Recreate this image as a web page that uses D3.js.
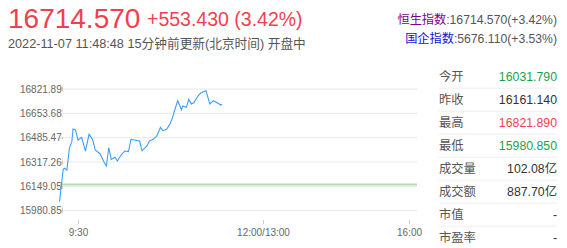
<!DOCTYPE html>
<html>
<head>
<meta charset="utf-8">
<script src="https://cdn.jsdelivr.net/npm/d3@7"></script>
<style>
  body { margin: 0; background: #fff; }
  svg { display: block; font-family: "Liberation Sans", Arial, "Noto Sans CJK SC", sans-serif; }
</style>
</head>
<body>
<div id="chart"></div>
<script>
// header values
var lastPrice = "16714.570";
var change = "+553.430 (3.42%)";
var stamp = "2022-11-07 11:48:48 15分钟前更新(北京时间) 开盘中";
var indexNames = ["恒生指数", "国企指数"];
var indexValues = [":16714.570(+3.42%)", ":5676.110(+3.53%)"];

// intraday series (time, price)
var times = ["9:15","9:18","9:19","9:21","9:23","9:25","9:26","9:28","9:30","9:33",
             "9:36","9:39","9:42","9:44","9:48","9:51","9:53","9:55","9:57","10:00",
             "10:02","10:05","10:08","10:11","10:13","10:16","10:20","10:22","10:26","10:28",
             "10:31","10:34","10:37","10:39","10:42","10:45","10:47","10:49","10:51","10:54",
             "10:55","10:58","11:00","11:02","11:04","11:08","11:10","11:14","11:17","11:20",
             "11:23","11:26","11:27"];
var prices = [16043,16267,16274,16262,16412,16458,16545,16539,16469,16488,
              16393,16509,16469,16400,16373,16319,16290,16416,16336,16350,
              16324,16366,16393,16389,16474,16469,16462,16395,16428,16462,
              16474,16497,16557,16534,16543,16585,16631,16689,16741,16677,
              16704,16695,16751,16718,16727,16780,16796,16810,16718,16741,
              16727,16711,16716];
var prevClose = 16161.14;
var yTicks = [15980.850, 16149.058, 16317.266, 16485.474, 16653.682, 16821.890];
var xTickLabels = ["9:30", "12:00/13:00", "16:00"];
var xTickTimes = ["9:30", "13:00", "16:00"];

// quote table
var rowLabels = ["今开", "昨收", "最高", "最低", "成交量", "成交额", "市值", "市盈率"];
var rowValues = ["16031.790", "16161.140", "16821.890", "15980.850", "102.08亿", "887.70亿", "-", "-"];
var rowKinds = ["down", "flat", "up", "down", "flat", "flat", "flat", "flat"];

var red = "#f23f4f", green = "#1d9f4a";

var svg = d3.select("#chart").append("svg")
  .attr("width", 567)
  .attr("height", 248);

// trading minutes since 9:30, lunch break removed
function tradeMin(t) {
  var p = t.split(":"), m = (+p[0]) * 60 + (+p[1]) - 570;
  return m > 150 ? m - 60 : m;
}

var x = d3.scaleLinear()
  .domain([-15, 0, 150, 330])
  .range([59.5, 78, 262.7, 409.3]);

var y = d3.scaleLinear()
  .domain([15980.85, 16821.89])
  .range([210.7, 89]);

// header
svg.append("text").attr("x", 8).attr("y", 28)
  .style("font-size", "28px").style("fill", red).text(lastPrice);
svg.append("text").attr("x", 147).attr("y", 26)
  .style("font-size", "19.5px").style("fill", red).text(change);
svg.append("text").attr("x", 8).attr("y", 48)
  .style("font-size", "12.7px").style("fill", "#555").text(stamp);

var idx = svg.append("g");
indexNames.forEach(function(n, i) {
  var t = idx.append("text").attr("x", 557).attr("y", 24 + i * 18.5)
    .attr("text-anchor", "end").style("font-size", "12.2px");
  t.append("tspan").style("fill", i == 0 ? "#800080" : "#1010e0").text(n);
  t.append("tspan").style("fill", "#555").text(indexValues[i]);
});

// gridlines
svg.append("g").selectAll("line").data(yTicks).enter().append("line")
  .attr("x1", 60).attr("x2", 417)
  .attr("y1", function(d) { return y(d); })
  .attr("y2", function(d) { return y(d); })
  .attr("stroke", "#e8e8e8");

// y labels, clipped like the original
svg.append("clipPath").attr("id", "yclip")
  .append("rect").attr("x", 0).attr("y", 70).attr("width", 62.5).attr("height", 150);
svg.append("g").attr("clip-path", "url(#yclip)")
  .selectAll("text").data(yTicks).enter().append("text")
  .attr("x", 20).attr("y", function(d) { return y(d) + 3.5; })
  .style("font-size", "10px").style("fill", "#666")
  .text(function(d) { return d.toFixed(3); });

// previous close
svg.append("line")
  .attr("x1", 60).attr("x2", 417)
  .attr("y1", y(prevClose)).attr("y2", y(prevClose))
  .attr("stroke", "#b2dfb0").attr("stroke-width", 2);

// x axis ticks
var xt = svg.append("g");
xTickTimes.forEach(function(t, i) {
  var px = Math.round(x(tradeMin(t))) + 0.5;
  xt.append("line").attr("x1", px).attr("x2", px).attr("y1", 220).attr("y2", 224)
    .attr("stroke", "#ccc");
  xt.append("text").attr("x", px).attr("y", 236).attr("text-anchor", "middle")
    .style("font-size", "10px").style("fill", "#666").text(xTickLabels[i]);
});

// price line
var line = d3.line()
  .x(function(d, i) { return x(tradeMin(times[i])); })
  .y(function(d) { return y(d); });
svg.append("path").datum(prices)
  .attr("d", line)
  .attr("fill", "none")
  .attr("stroke", "#3f9cff")
  .attr("stroke-width", 1.1);

// quote table
var rows = svg.append("g").selectAll("g").data(rowLabels).enter().append("g")
  .attr("transform", function(d, i) { return "translate(0," + (76.7 + i * 23) + ")"; });
rows.append("text").attr("x", 439).attr("y", 4.5)
  .style("font-size", "12.3px").style("fill", "#555")
  .text(function(d) { return d; });
rows.append("text").attr("x", 557).attr("y", 4.5).attr("text-anchor", "end")
  .style("font-size", "12.3px")
  .style("fill", function(d, i) {
    return rowKinds[i] == "up" ? red : rowKinds[i] == "down" ? green : "#333";
  })
  .text(function(d, i) { return rowValues[i]; });
rows.filter(function(d, i) { return i < rowLabels.length - 1; })
  .append("line").attr("x1", 439).attr("x2", 557).attr("y1", 11.5).attr("y2", 11.5)
  .attr("stroke", "#eee");
</script>
</body>
</html>
